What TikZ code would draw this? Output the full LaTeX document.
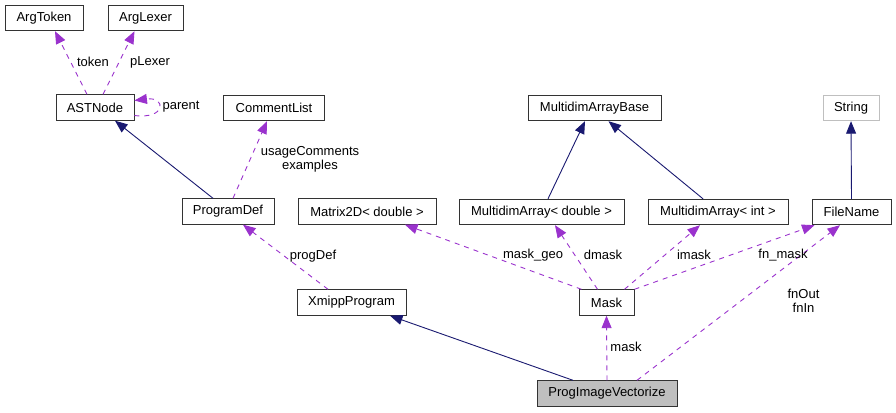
\documentclass[tikz,border=0pt]{standalone}
\usepackage{fontspec}
\setmainfont{Liberation Sans}
\usetikzlibrary{arrows.meta}
\definecolor{inh}{HTML}{191970}
\definecolor{use}{HTML}{9A32CD}
\definecolor{greybox}{HTML}{BFBFBF}
\begin{document}
\begin{tikzpicture}[x=1pt,y=-1pt,
  cls/.style={draw=black!80,line width=0.9pt,fill=white,inner sep=0pt,minimum height=25.5pt,font=\fontsize{13}{14}\selectfont},
  lbl/.style={inner sep=0pt,font=\fontsize{13}{14}\selectfont,align=center},
  inhedge/.style={draw=inh,line width=0.9pt,-{Triangle[length=12.5pt,width=10pt]}},
  useedge/.style={draw=use,line width=0.9pt,dash pattern=on 5pt off 5pt,-{Triangle[length=12.5pt,width=10pt]}}]
\useasboundingbox (0,0) rectangle (896,412);
% nodes
\node[cls,minimum width=78pt] (argtoken) at (44,18) {ArgToken};
\node[cls,minimum width=75pt] (arglexer) at (145.5,18) {ArgLexer};
\node[cls,minimum width=78pt] (astnode) at (95,107.5) {ASTNode};
\node[cls,minimum width=101pt] (commentlist) at (274,108) {CommentList};
\node[cls,minimum width=92pt] (programdef) at (228,211.5) {ProgramDef};
\node[cls,minimum width=138pt] (matrix) at (367,211.5) {Matrix2D< double >};
\node[cls,minimum width=133pt] (mabase) at (594.5,108) {MultidimArrayBase};
\node[cls,draw=greybox,minimum width=56pt] (string) at (851,108) {String};
\node[cls,minimum width=165pt] (madouble) at (541.5,212) {MultidimArray< double >};
\node[cls,minimum width=140pt] (maint) at (718,212) {MultidimArray< int >};
\node[cls,minimum width=79pt] (filename) at (851.5,212) {FileName};
\node[cls,minimum width=109pt] (xmipp) at (351.5,302.5) {XmippProgram};
\node[cls,minimum width=55pt] (mask) at (606.5,302.5) {Mask};
\node[cls,fill=greybox,minimum width=140pt] (piv) at (607,393.5) {ProgImageVectorize};
% inheritance edges
\draw[inhedge] ([xshift=-34pt]piv.north) -- ([xshift=38.5pt]xmipp.south);
\draw[inhedge] ([xshift=-15pt]programdef.north) -- ([xshift=20pt]astnode.south);
\draw[inhedge] ([xshift=6.5pt]madouble.north) -- ([xshift=-9.5pt]mabase.south);
\draw[inhedge] ([xshift=-15pt]maint.north) -- ([xshift=14pt]mabase.south);
\draw[inhedge] (filename.north) -- (string.south);
% usage edges
\draw[useedge] ([xshift=-8pt]astnode.north) -- ([xshift=11pt]argtoken.south);
\draw[useedge] ([xshift=8pt]astnode.north) -- ([xshift=-11pt]arglexer.south);
\draw[useedge] ([yshift=-8pt]astnode.east) .. controls +(32,4) and +(32,-4) .. ([yshift=7pt]astnode.east);
\draw[useedge] ([xshift=5pt]programdef.north) -- ([xshift=-7pt]commentlist.south);
\draw[useedge] ([xshift=-23.5pt]xmipp.north) -- ([xshift=15pt]programdef.south);
\draw[useedge] ([xshift=-25pt]mask.north) -- ([xshift=38pt]matrix.south);
\draw[useedge] ([xshift=-9pt]mask.north) -- ([xshift=13.5pt]madouble.south);
\draw[useedge] ([xshift=18pt]mask.north) -- ([xshift=-18pt]maint.south);
\draw[useedge] (mask.north east) -- ([xshift=-37pt]filename.south);
\draw[useedge] (piv.north) -- (mask.south);
\draw[useedge] ([xshift=30pt]piv.north) -- ([xshift=-11.5pt]filename.south);
% labels
\node[lbl] (ltoken) at (93,62) {token};
\node[lbl] (lplexer) at (150,62) {pLexer};
\node[lbl] (lparent) at (181,107) {parent};
\node[lbl] (lusage) at (310,159.5) {usageComments\\examples};
\node[lbl] (lprogdef) at (313,256) {progDef};
\node[lbl] (lmaskgeo) at (533,255) {mask\_geo};
\node[lbl] (ldmask) at (603,255) {dmask};
\node[lbl] (limask) at (694,255) {imask};
\node[lbl] (lfnmask) at (783,255) {fn\_mask};
\node[lbl] (lmask) at (626,347) {mask};
\node[lbl] (lfn) at (803.5,301) {fnOut\\fnIn};
\end{tikzpicture}
\end{document}
